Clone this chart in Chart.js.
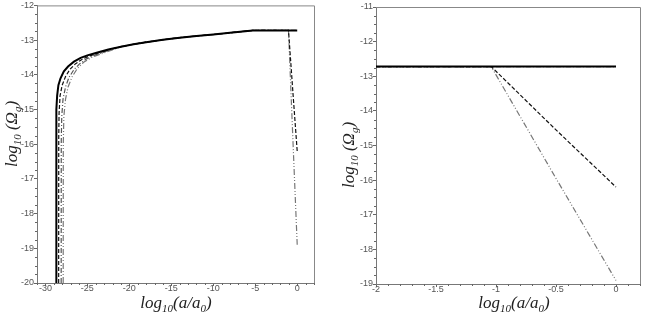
<!DOCTYPE html>
<html>
<head>
<meta charset="utf-8">
<script src="https://cdn.jsdelivr.net/npm/chart.js@4"></script>
<style>
  body { margin: 0; background: #fff; width: 664px; height: 316px; position: relative; overflow: hidden; }
  canvas { position: absolute; top: 0; }
</style>
</head>
<body>
<canvas id="left" width="334" height="316" style="left:0"></canvas>
<canvas id="right" width="330" height="316" style="left:334px"></canvas>
<script>
// shared tail: all curves merge into one track and go flat near log10(a/a0) = -5
var tailX = [-21, -19.5, -18, -16, -14, -12, -10, -8, -6.5, -5.3, -4, -2, -1.04];
var tailY = [-13.19, -13.12, -13.06, -12.99, -12.93, -12.88, -12.84, -12.79, -12.75, -12.72, -12.72, -12.72, -12.72];

// solid
var solidX = [-28.72, -28.71, -28.68, -28.6, -28.45, -28.2, -27.8, -27.3, -26.6, -25.8, -25, -24, -22.5];
var solidY = [-20, -15.6, -15.0, -14.6, -14.3, -14.1, -13.9, -13.76, -13.62, -13.51, -13.44, -13.37, -13.27];
var solidEndX = [0];
var solidEndY = [-12.72];

// dashed
var dashX = [-28.42, -28.41, -28.37, -28.25, -28.0, -27.6, -27.1, -26.4, -25.6, -24.8, -23.8, -22.5];
var dashY = [-20, -15.8, -15.1, -14.6, -14.3, -14.05, -13.85, -13.68, -13.55, -13.46, -13.38, -13.28];
var dashEndX = [-0.5, 0];
var dashEndY = [-14.55, -16.2];

// dash-dot
var dotX = [-28.12, -28.11, -28.05, -27.9, -27.6, -27.2, -26.6, -25.9, -25.1, -24.2, -23.0, -21.8];
var dotY = [-20, -15.9, -15.2, -14.7, -14.35, -14.08, -13.85, -13.68, -13.54, -13.44, -13.34, -13.24];
var dotEndX = [0];
var dotEndY = [-12.72];

// dash-dot-dot (grey)
var ddX = [-27.88, -27.87, -27.8, -27.6, -27.3, -26.8, -26.2, -25.4, -24.5, -23.4, -22.2];
var ddY = [-20, -16.0, -15.2, -14.7, -14.35, -14.05, -13.82, -13.63, -13.5, -13.4, -13.3];
var ddEndX = [-0.5, 0];
var ddEndY = [-15.95, -18.9];

// tick labels
var leftXTicks = [-30, -25, -20, -15, -10, -5, 0];
var leftYTicks = [-20, -19, -18, -17, -16, -15, -14, -13, -12];
var rightXTicks = [-2, -1.5, -1, -0.5, 0];
var rightYTicks = [-19, -18, -17, -16, -15, -14, -13, -12, -11];

function pts(xs, ys) {
  return xs.map(function (x, i) { return { x: x, y: ys[i] }; });
}
function series(headX, headY, endX, endY) {
  return pts(headX.concat(tailX, endX), headY.concat(tailY, endY));
}

function minors(min, max, step, majors) {
  var out = [];
  for (var i = 0; min + i * step <= max + 1e-9; i++) {
    var v = +(min + i * step).toFixed(4);
    if (majors.indexOf(v) < 0) out.push(v);
  }
  return out;
}

var sans = '"Liberation Sans", Arial, sans-serif';
var serif = '"Liberation Serif", "Times New Roman", serif';

var xTitle = [['log', 0], ['10', 1], ['(a/a', 0], ['0', 1], [')', 0]];
var yTitle = [['log', 0], ['10', 1], [' (\u03A9', 0], ['g', 1], [')', 0]];

function drawRich(ctx, parts, cx, cy, rot) {
  var big = 'italic 17px ' + serif, small = 'italic 11px ' + serif;
  var w = 0;
  parts.forEach(function (p) { ctx.font = p[1] ? small : big; w += ctx.measureText(p[0]).width; });
  ctx.save();
  ctx.translate(cx, cy);
  ctx.rotate(rot);
  ctx.fillStyle = '#222';
  ctx.textBaseline = 'alphabetic';
  ctx.textAlign = 'left';
  var x = -w / 2;
  parts.forEach(function (p) {
    ctx.font = p[1] ? small : big;
    ctx.fillText(p[0], x, p[1] ? 9 : 5);
    x += ctx.measureText(p[0]).width;
  });
  ctx.restore();
}

var decor = {
  id: 'decor',
  afterDraw: function (chart, args, o) {
    var ctx = chart.ctx, a = chart.chartArea, xs = chart.scales.x, ys = chart.scales.y;
    ctx.save();
    ctx.strokeStyle = '#888';
    ctx.lineWidth = 1;
    ctx.beginPath();
    ctx.moveTo(a.left, a.top + 0.5);
    ctx.lineTo(a.right + 0.5, a.top + 0.5);
    ctx.lineTo(a.right + 0.5, a.bottom);
    ctx.stroke();
    ctx.strokeStyle = '#666';
    ctx.beginPath();
    o.xMinor.forEach(function (v) {
      var px = Math.round(xs.getPixelForValue(v)) + 0.5;
      ctx.moveTo(px, a.bottom); ctx.lineTo(px, a.bottom + 2);
    });
    o.yMinor.forEach(function (v) {
      var py = Math.round(ys.getPixelForValue(v)) + 0.5;
      ctx.moveTo(a.left, py); ctx.lineTo(a.left - 2, py);
    });
    ctx.stroke();
    ctx.restore();
    drawRich(ctx, xTitle, o.xTitle[0], o.xTitle[1], 0);
    drawRich(ctx, yTitle, o.yTitle[0], o.yTitle[1], -Math.PI / 2);
  }
};

function datasets() {
  return [
    { data: series(solidX, solidY, solidEndX, solidEndY), borderColor: '#000', borderWidth: 2 },
    { data: series(dashX, dashY, dashEndX, dashEndY), borderColor: '#111', borderWidth: 1.2, borderDash: [4, 2] },
    { data: series(dotX, dotY, dotEndX, dotEndY), borderColor: '#555', borderWidth: 1.2, borderDash: [5, 2, 1, 2] },
    { data: series(ddX, ddY, ddEndX, ddEndY), borderColor: '#777', borderWidth: 1.2, borderDash: [6, 2, 1, 2, 1, 2] }
  ];
}

function makeChart(id, cfg) {
  return new Chart(document.getElementById(id), {
    type: 'line',
    data: { datasets: datasets() },
    options: {
      responsive: false,
      animation: false,
      events: [],
      elements: { point: { radius: 0 }, line: { tension: 0, fill: false } },
      layout: { padding: { top: cfg.top, right: cfg.right, bottom: 0, left: 0 } },
      plugins: {
        legend: { display: false },
        tooltip: { enabled: false },
        decor: { xMinor: cfg.xMinor, yMinor: cfg.yMinor, xTitle: cfg.xTitle, yTitle: cfg.yTitle }
      },
      scales: {
        x: {
          type: 'linear', min: cfg.xMin, max: cfg.xMax,
          afterBuildTicks: function (s) { s.ticks = cfg.xTicks.map(function (v) { return { value: v }; }); },
          afterFit: function (s) { s.height = 316 - cfg.bottom; },
          ticks: { autoSkip: false, maxRotation: 0, padding: -3, color: '#555', font: { family: sans, size: 9 },
            callback: function (v) { return String(v); } },
          grid: { drawOnChartArea: false, tickLength: 3, tickColor: '#666' },
          border: { color: '#777' }
        },
        y: {
          type: 'linear', min: cfg.yMin, max: cfg.yMax,
          afterBuildTicks: function (s) { s.ticks = cfg.yTicks.map(function (v) { return { value: v }; }); },
          afterFit: function (s) { s.width = cfg.left; },
          ticks: { autoSkip: false, padding: 0, color: '#555', font: { family: sans, size: 9 },
            callback: function (v) { return String(v); } },
          grid: { drawOnChartArea: false, tickLength: 3, tickColor: '#666' },
          border: { color: '#777' }
        }
      }
    },
    plugins: [decor]
  });
}

makeChart('left', {
  xMin: -31, xMax: 2, yMin: -20, yMax: -12,
  xTicks: leftXTicks, yTicks: leftYTicks,
  xMinor: minors(-31, 2, 1, leftXTicks), yMinor: minors(-20, -12, 0.25, leftYTicks),
  left: 37, right: 334 - 314, top: 5, bottom: 283,
  xTitle: [176, 303], yTitle: [12, 134]
});

makeChart('right', {
  xMin: -2, xMax: 0.2, yMin: -19, yMax: -11,
  xTicks: rightXTicks, yTicks: rightYTicks,
  xMinor: minors(-2, 0.2, 0.1, rightXTicks), yMinor: minors(-19, -11, 0.25, rightYTicks),
  left: 42, right: 330 - 306, top: 7, bottom: 284,
  xTitle: [180, 303], yTitle: [15, 155]
});
</script>
</body>
</html>
